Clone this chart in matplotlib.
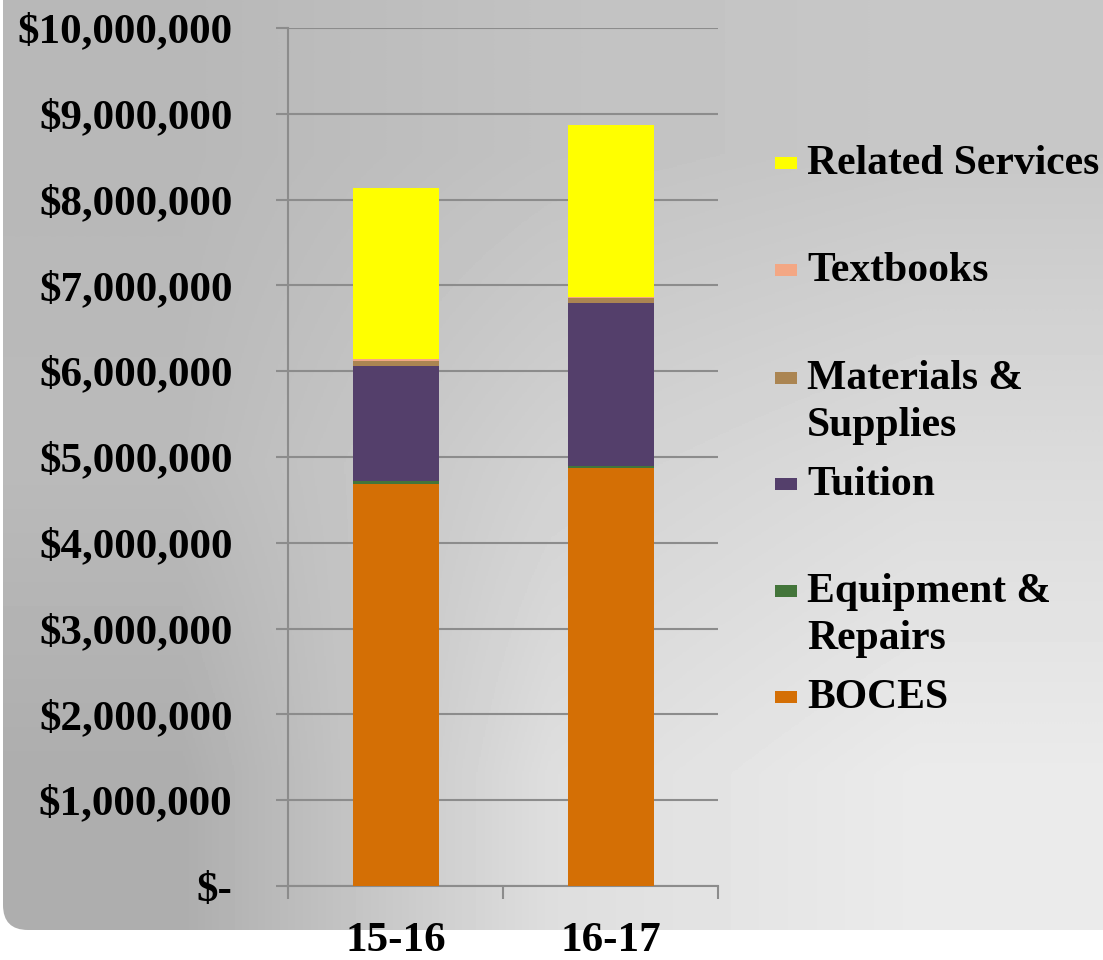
import matplotlib.pyplot as plt
import numpy as np
from matplotlib.patches import FancyBboxPatch, Rectangle

years = ["15-16", "16-17"]
series = ["BOCES", "Equipment &\nRepairs", "Tuition", "Materials &\nSupplies",
          "Textbooks", "Related Services"]
boces = [4680000, 4875000]
equipment = [40000, 20000]
tuition = [1345000, 1898000]
materials = [58000, 58000]
textbooks = [18000, 12000]
related = [1995000, 2002000]
colors = ["#D46F05", "#43753A", "#543F6B", "#AB8552", "#F3A784", "#FFFF00"]

W, H = 1103, 960
plt.rcParams['font.family'] = ['Liberation Serif', 'DejaVu Serif']
plt.rcParams['font.weight'] = 'bold'

fig = plt.figure(figsize=(W / 100, H / 100), dpi=100)
fig.patch.set_facecolor('white')

# gray gradient panel with rounded bottom-left corner
bg = fig.add_axes([0, 0, 1, 1], zorder=-1)
bg.set_xlim(0, W)
bg.set_ylim(H, 0)
bg.axis('off')
shade = np.array([[0.72, 0.76, 0.78],
                  [0.73, 0.82, 0.86],
                  [0.68, 0.87, 0.92]])
im = bg.imshow(shade, cmap='gray', vmin=0, vmax=1, extent=[0, W, 930, 0],
               aspect='auto', interpolation='bilinear')
panel = FancyBboxPatch((3, -60), W + 60, 990, boxstyle="round,pad=0,rounding_size=25",
                       transform=bg.transData, facecolor='none', edgecolor='none')
bg.add_patch(panel)
im.set_clip_path(panel)

ax = fig.add_axes([288 / W, 74 / H, 430 / W, 858 / H])
ax.set_facecolor('none')

x = np.arange(len(years))
bottom = np.zeros(len(years))
for vals, name, c in zip([boces, equipment, tuition, materials, textbooks, related], series, colors):
    ax.bar(x, vals, width=0.4, bottom=bottom, color=c, label=name, zorder=3)
    bottom += np.array(vals)

ax.set_xlim(-0.5, 1.5)
ax.set_ylim(0, 10000000)
ax.set_yticks(np.arange(0, 10000001, 1000000))
ax.set_yticklabels(["$-"] + ["${:,}".format(v) for v in range(1000000, 10000001, 1000000)])
ax.grid(axis='y', color='#8c8c8c', linewidth=1.5, zorder=0)
for s in ['top', 'right']:
    ax.spines[s].set_visible(False)
for s in ['left', 'bottom']:
    ax.spines[s].set_color('#8c8c8c')
    ax.spines[s].set_linewidth(1.5)
ax.tick_params(axis='y', length=9, width=1.5, color='#8c8c8c', pad=31, labelsize=31)
ax.set_xticks(x)
ax.set_xticklabels(years)
ax.set_xticks([-0.5, 0.5, 1.5], minor=True)
ax.tick_params(axis='x', which='major', length=0, pad=26, labelsize=31)
ax.tick_params(axis='x', which='minor', length=9, width=1.5, color='#8c8c8c')

# legend drawn at the side, top entry first
rows = [697, 591, 484, 378, 270, 163]
for name, c, yp in zip(series, colors, rows):
    fig.patches.append(Rectangle((775 / W, 1 - (yp + 6) / H), 22 / W, 12 / H,
                                 transform=fig.transFigure, facecolor=c, edgecolor='none'))
    fig.text(807 / W, 1 - (yp - 18) / H, name, fontsize=30, va='top', ha='left',
             linespacing=1.3)

fig.savefig('out.png', dpi=100)
